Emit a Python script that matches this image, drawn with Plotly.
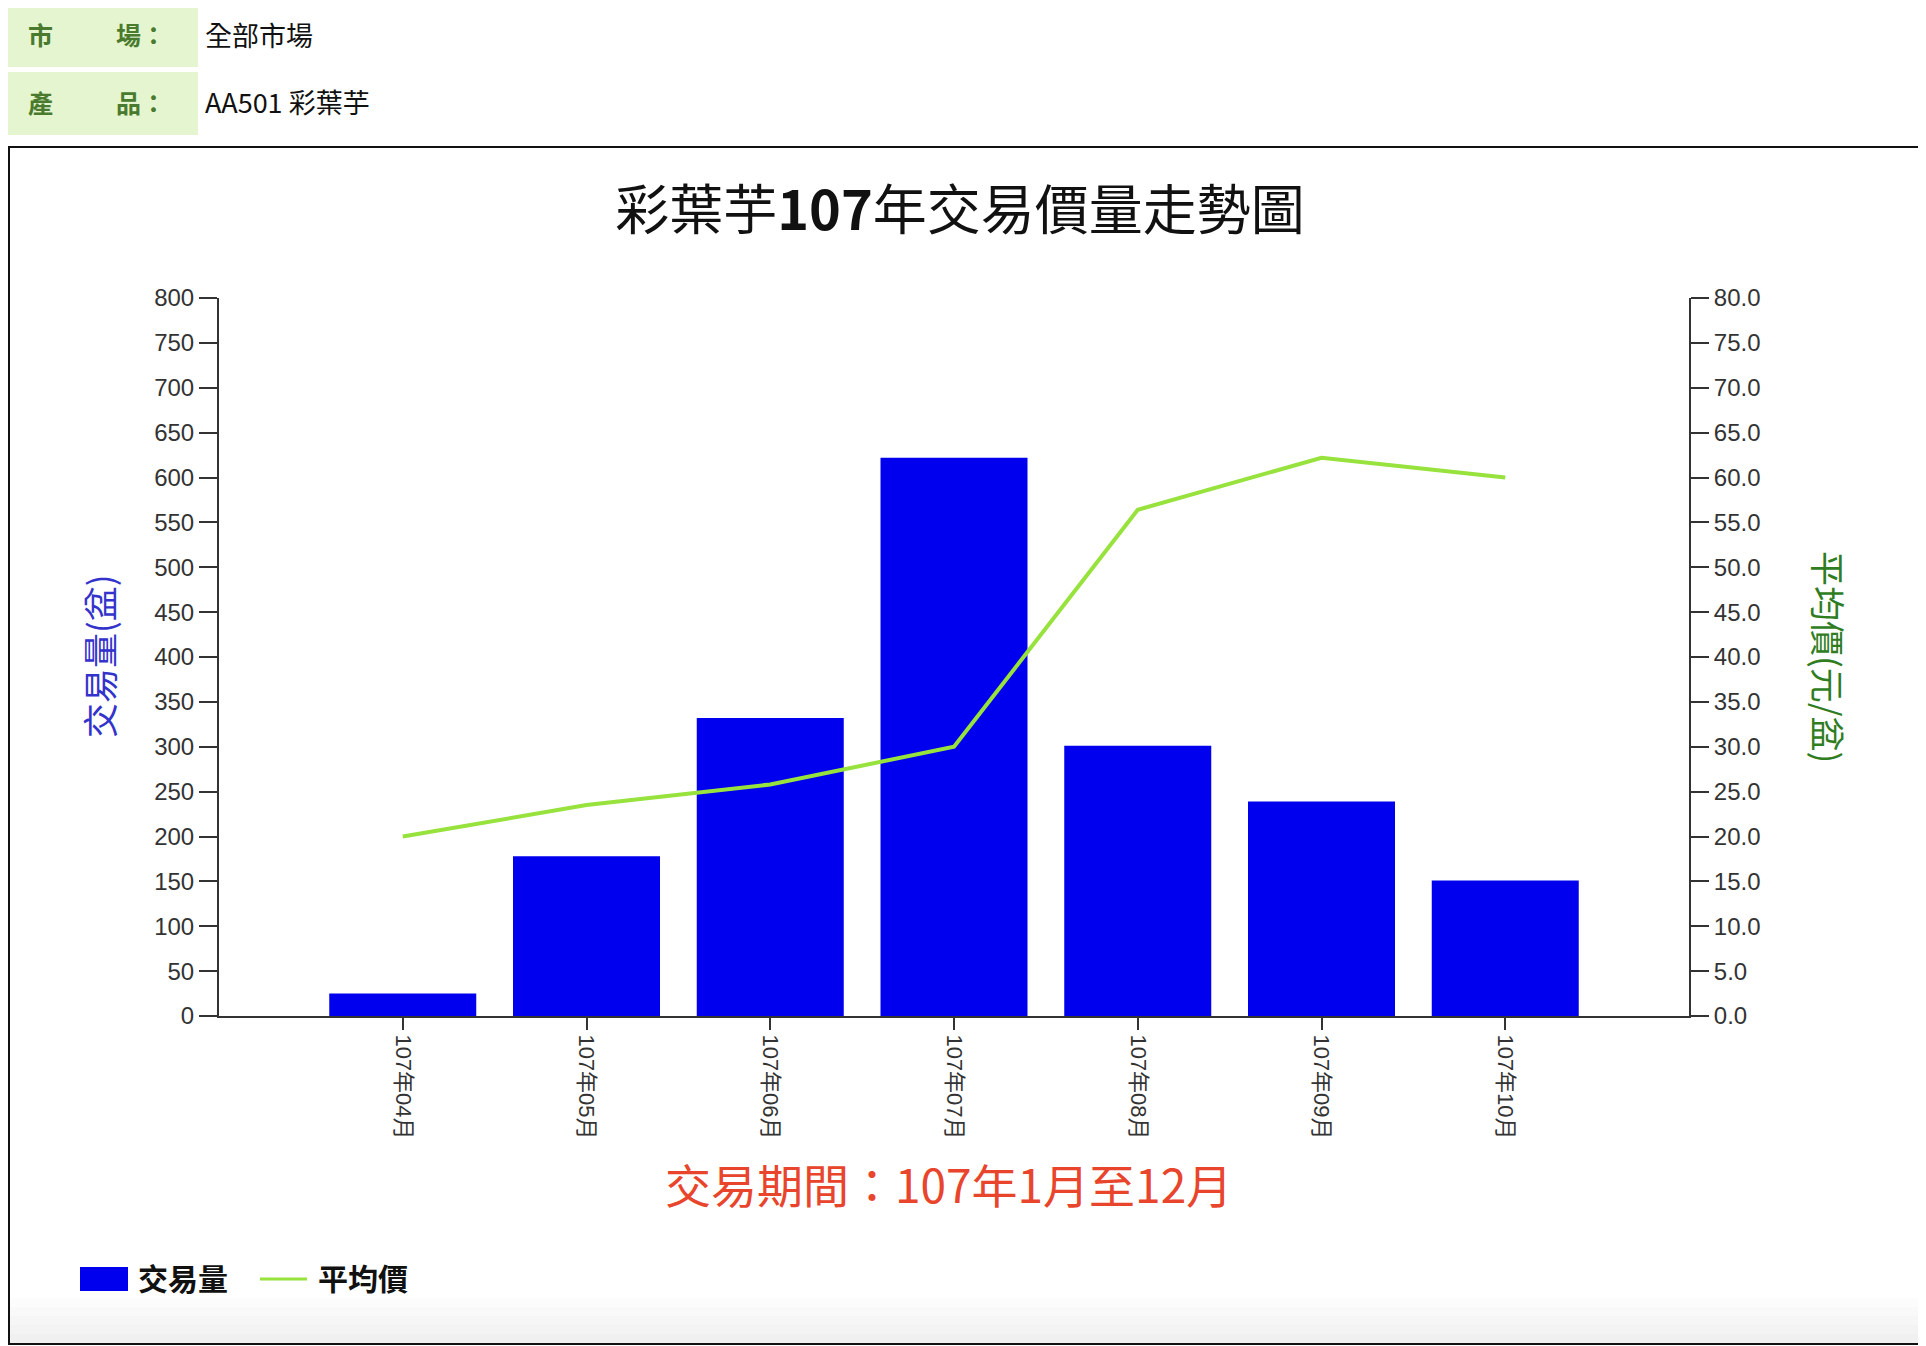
import plotly.graph_objects as go

# Data
months = ['107年04月', '107年05月', '107年06月', '107年07月', '107年08月', '107年09月', '107年10月']
volume = [25, 178, 332, 622, 301, 239, 151]
avg_price = [20.0, 23.5, 25.8, 30.0, 56.4, 62.2, 60.0]

vol_ticks = list(range(0, 801, 50))
price_ticks = [v * 5.0 for v in range(17)]

# the page body adds an 8px margin, so the figure is shifted by that much
OFF = 8
W, H = 1926 - OFF, 1346 - OFF
L, T = 219 - OFF, 298 - OFF
PW, PH = 1470, 718
R, B = W - L - PW, H - T - PH

cjk = "Noto Sans CJK TC"
num_font = "Liberation Sans, Noto Sans CJK TC"


def px(x):
    # window pixel -> paper x
    return (x - OFF - L) / PW


def py(y):
    # window pixel -> paper y
    return (T + PH - (y - OFF)) / PH


def note(x, y, text, size, color, xanchor='center', angle=0):
    fig.add_annotation(x=px(x), y=py(y), xref='paper', yref='paper', text=text,
                       xanchor=xanchor, yanchor='middle', textangle=angle,
                       showarrow=False, font=dict(family=cjk, size=size, color=color))


fig = go.Figure()

fig.add_trace(go.Bar(x=months, y=volume, name='交易量',
                     marker=dict(color='#0000EE', line=dict(width=0)),
                     width=0.8, yaxis='y'))

fig.add_trace(go.Scatter(x=months, y=avg_price, name='平均價', mode='lines',
                         line=dict(color='#97E23C', width=4),
                         yaxis='y2'))

axis_common = dict(showgrid=False, zeroline=False, showline=True,
                   linecolor='#333333', linewidth=2, ticks='outside',
                   tickcolor='#333333', tickwidth=2)

fig.update_layout(
    width=W, height=H,
    margin=dict(l=L, r=R, t=T, b=B),
    paper_bgcolor='white', plot_bgcolor='white',
    showlegend=False,
    title=dict(text='彩葉芋<b>107</b>年交易價量走勢圖', xref='container', yref='container',
               x=(960 - OFF) / W, y=1 - (211 - OFF) / H, xanchor='center', yanchor='middle',
               font=dict(family=cjk, size=54, color='#111111')),
    xaxis=dict(axis_common, type='category', range=[-1, 7], ticklen=12,
               tickangle=90, tickfont=dict(family=num_font, size=22, color='#333333')),
    yaxis=dict(axis_common, range=[0, 800], tickvals=vol_ticks, ticklen=18,
               tickfont=dict(family=num_font, size=24, color='#333333')),
    yaxis2=dict(axis_common, range=[0, 80], tickvals=price_ticks, tickformat='.1f',
                ticklen=18, overlaying='y', side='right',
                tickfont=dict(family=num_font, size=24, color='#333333')),
)

# axis titles
note(98, 656, '交易量(盆)', 35, '#3333CC', angle=-90)
note(1830, 657, '平均價(元/盆)', 35, '#2F7D1F', angle=90)

# period note under the chart
note(948, 1183, '交易期間：107年1月至12月', 46, '#E8452C')

# header rows
shapes = []
for y0, y1 in [(4, 67), (72, 135)]:
    shapes.append(dict(type='rect', xref='paper', yref='paper',
                       x0=px(OFF), x1=px(198), y0=py(y1), y1=py(max(y0, OFF)),
                       fillcolor='#E4F5D0', line=dict(width=0), layer='below'))

header = [('市', '場：', '全部市場', 34), ('產', '品：', 'AA501 彩葉芋', 102)]
for a, b, val, yc in header:
    note(26, yc, '<b>%s</b>' % a, 25, '#4A7A2E', xanchor='left')
    note(114, yc, '<b>%s</b>' % b, 25, '#4A7A2E', xanchor='left')
    note(203, yc, val, 27, '#111111', xanchor='left')

# soft grey fade at the bottom of the frame
for k in range(1, 6):
    shapes.append(dict(type='rect', xref='paper', yref='paper',
                       x0=px(10), x1=px(1920), y0=py(1343), y1=py(1343 - 9 * k),
                       fillcolor='#999999', opacity=0.03, line=dict(width=0), layer='below'))

# chart frame
shapes.append(dict(type='rect', xref='paper', yref='paper',
                   x0=px(9), x1=px(1923), y0=py(1344), y1=py(147),
                   line=dict(color='#111111', width=2)))

# legend
shapes.append(dict(type='rect', xref='paper', yref='paper',
                   x0=px(80), x1=px(128), y0=py(1291), y1=py(1267),
                   fillcolor='#0000EE', line=dict(width=0)))
shapes.append(dict(type='line', xref='paper', yref='paper',
                   x0=px(260), x1=px(307), y0=py(1279), y1=py(1279),
                   line=dict(color='#97E23C', width=3)))
fig.update_layout(shapes=shapes)

note(136, 1277, '<b>交易量</b>', 30, '#111111', xanchor='left')
note(316, 1277, '<b>平均價</b>', 30, '#111111', xanchor='left')

fig.write_html("out.html")
